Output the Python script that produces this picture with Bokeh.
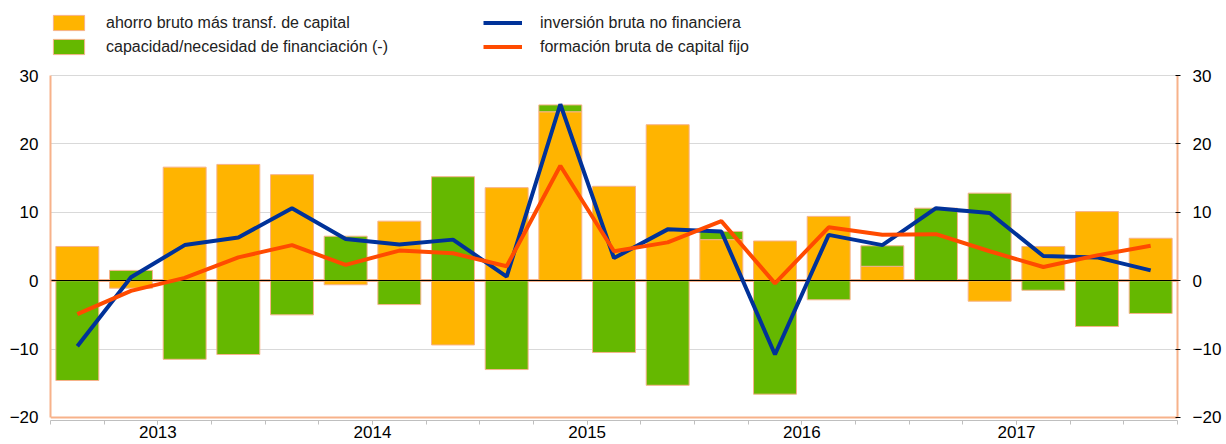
import numpy as np
from bokeh.plotting import figure
from bokeh.models import (ColumnDataSource, Range1d, LinearAxis, FixedTicker,
                          Legend, LegendItem, PrintfTickFormatter)
from bokeh.embed import file_html
from bokeh.resources import INLINE

# ---------------- data (quarterly, 2013Q1 .. 2018Q1) ----------------
quarters = ["2013Q1", "2013Q2", "2013Q3", "2013Q4",
            "2014Q1", "2014Q2", "2014Q3", "2014Q4",
            "2015Q1", "2015Q2", "2015Q3", "2015Q4",
            "2016Q1", "2016Q2", "2016Q3", "2016Q4",
            "2017Q1", "2017Q2", "2017Q3", "2017Q4",
            "2018Q1"]
years = [2013, 2014, 2015, 2016, 2017]

ahorro = [5.0, -1.1, 16.6, 17.0, 15.5, -0.6, 8.7, -9.4, 13.6, 24.7, 13.8,
          22.8, 6.0, 5.8, 9.4, 2.1, 0.0, -3.0, 5.0, 10.1, 6.2]
capacidad = [-14.6, 1.5, -11.5, -10.8, -5.0, 6.5, -3.5, 15.2, -13.0, 1.0, -10.5,
             -15.3, 1.2, -16.6, -2.8, 3.0, 10.6, 12.8, -1.4, -6.7, -4.8]
inversion = [-9.6, 0.5, 5.2, 6.3, 10.6, 6.1, 5.3, 6.0, 0.6, 25.8, 3.3,
             7.5, 7.2, -10.8, 6.7, 5.2, 10.6, 9.9, 3.6, 3.4, 1.5]
formacion = [-4.9, -1.5, 0.4, 3.4, 5.2, 2.3, 4.4, 4.0, 2.1, 16.8, 4.3,
             5.6, 8.7, -0.4, 7.8, 6.7, 6.8, 4.3, 2.0, 3.7, 5.1]

y_ticks = [-20, -10, 0, 10, 20, 30]

# ---------------- styling ----------------
C_ORANGE = "#FFB400"
C_GREEN = "#65B800"
C_BLUE = "#003299"
C_RED = "#FF4B00"
C_SALMON = "#F7B28A"
C_GRID = "#D9D9D9"
C_AXIS = "#BFBFBF"
FONT = "Liberation Sans"

# ---------------- derived layout (stacking, positions) ----------------
n = len(quarters)
xpos = years[0] - 0.375 + 0.25 * np.arange(n)   # quarter centres in "year" units
a = np.array(ahorro)
c = np.array(capacidad)
o_bot = np.minimum(0, a)
o_top = np.maximum(0, a)
base = np.where(np.sign(c) == np.sign(a), a, 0.0)
g_bot = np.minimum(base, base + c)
g_top = np.maximum(base, base + c)

src = ColumnDataSource(dict(x=xpos, ob=o_bot, ot=o_top, gb=g_bot, gt=g_top,
                            inv=inversion, fbcf=formacion, q=quarters))

# frame spans the full height above the x axis; the top part holds the legend
p = figure(width=1226, height=444,
           x_range=Range1d(xpos[0] - 0.125, xpos[-1] + 0.125),
           y_range=Range1d(-20.45, 40.97),
           output_backend="svg", toolbar_location=None,
           min_border_left=50, min_border_right=49,
           min_border_top=0, min_border_bottom=24,
           outline_line_color=None, background_fill_color="white")

# grid
p.xgrid.visible = False
p.ygrid.ticker = FixedTicker(ticks=[-10, 10, 20, 30])
p.ygrid.grid_line_color = C_GRID
p.ygrid.grid_line_width = 1

# left axis
ya = p.yaxis[0]
ya.ticker = FixedTicker(ticks=y_ticks)
ya.bounds = (-20, 30)
ya.axis_line_color = C_SALMON
ya.axis_line_width = 2
ya.major_tick_in = 0
ya.major_tick_out = 0
ya.minor_tick_line_color = None
ya.major_label_standoff = 12
ya.major_label_text_font = FONT
ya.major_label_text_font_size = "17px"
ya.major_label_text_color = "#000000"

# right axis
ra = LinearAxis(ticker=FixedTicker(ticks=y_ticks), bounds=(-20, 30))
ra.axis_line_color = C_SALMON
ra.axis_line_width = 2
ra.major_tick_in = 2
ra.major_tick_out = 3
ra.major_tick_line_color = "black"
ra.minor_tick_line_color = None
ra.major_label_standoff = 12
ra.major_label_text_font = FONT
ra.major_label_text_font_size = "17px"
ra.major_label_text_color = "#000000"
p.add_layout(ra, "right")

# bottom axis
xa = p.xaxis[0]
bounds = list(xpos[0] - 0.125 + 0.25 * np.arange(n + 1))
xa.ticker = FixedTicker(ticks=years, minor_ticks=bounds)
xa.formatter = PrintfTickFormatter(format="%d")
xa.axis_line_color = C_AXIS
xa.axis_line_width = 1
xa.major_tick_in = 0
xa.major_tick_out = 4
xa.minor_tick_in = 0
xa.minor_tick_out = 4
xa.major_tick_line_color = C_AXIS
xa.minor_tick_line_color = C_AXIS
xa.major_label_standoff = 1
xa.major_label_text_font = FONT
xa.major_label_text_font_size = "17px"
xa.major_label_text_color = "#000000"

# reference lines below bars
p.hspan(y=[0], line_color=C_SALMON, line_width=3)
p.hspan(y=[-20], line_color=C_SALMON, line_width=2)

# bars
r_or = p.vbar(x="x", width=0.2, bottom="ob", top="ot", source=src,
              fill_color=C_ORANGE, line_color=C_SALMON, line_width=1)
r_gr = p.vbar(x="x", width=0.2, bottom="gb", top="gt", source=src,
              fill_color=C_GREEN, line_color=C_SALMON, line_width=1)

# zero line
p.hspan(y=[0], line_color="black", line_width=1.2)

# lines
r_inv = p.line(x="x", y="inv", source=src, line_color=C_BLUE, line_width=4)
r_fb = p.line(x="x", y="fbcf", source=src, line_color=C_RED, line_width=4)

leg_kw = dict(glyph_width=39, glyph_height=19, label_height=19, label_standoff=18,
              spacing=5, padding=0, margin=0, border_line_color=None,
              background_fill_alpha=0, label_text_font=FONT,
              label_text_font_size="16px", label_text_color="#222222")

leg1 = Legend(items=[LegendItem(label="ahorro bruto más transf. de capital", renderers=[r_or]),
                     LegendItem(label="capacidad/necesidad de financiación (-)", renderers=[r_gr])],
              location=(-1, 364), **leg_kw)
leg2 = Legend(items=[LegendItem(label="inversión bruta no financiera", renderers=[r_inv]),
                     LegendItem(label="formación bruta de capital fijo", renderers=[r_fb])],
              location=(433, 364), **leg_kw)
p.add_layout(leg1)
p.add_layout(leg2)

open("out.html", "w").write(file_html(p, INLINE))
